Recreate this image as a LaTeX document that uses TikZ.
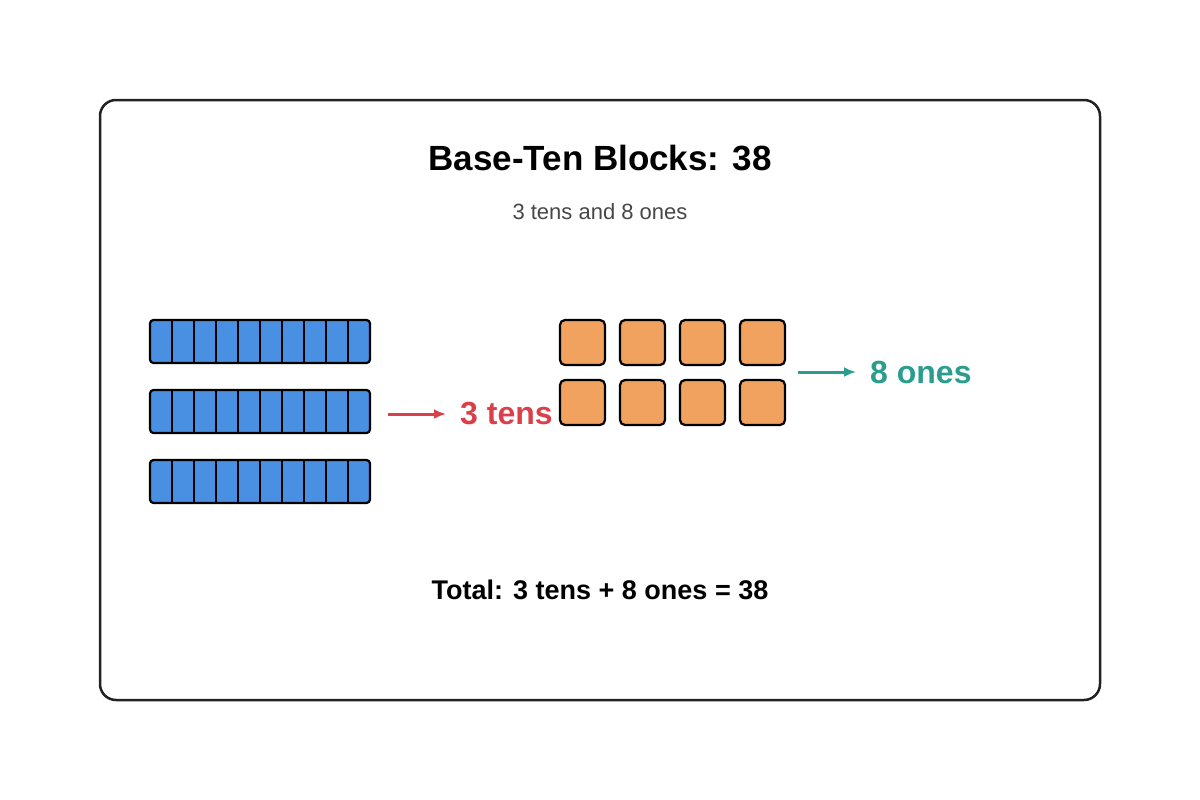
\documentclass[tikz,border=0pt]{standalone}
\usepackage{fontspec}
\setmainfont{Liberation Sans}
\usetikzlibrary{arrows.meta}
\definecolor{rodblue}{HTML}{4A90E2}
\definecolor{oneorange}{HTML}{F2A25F}
\definecolor{tenred}{HTML}{D9404A}
\definecolor{oneteal}{HTML}{2A9D8F}
\definecolor{frame}{HTML}{222222}
\tikzset{
  rod/.style={draw=black,fill=rodblue,line width=2.2pt,rounded corners=3.5pt,minimum width=220pt,minimum height=43pt,inner sep=0pt},
  unit/.style={draw=black,fill=oneorange,line width=2.2pt,rounded corners=5pt,minimum width=45pt,minimum height=45pt,inner sep=0pt},
  lbl/.style={font=\bfseries\fontsize{32}{36}\selectfont,anchor=west,inner sep=0pt},
}
\begin{document}
\begin{tikzpicture}[x=1pt,y=-1pt]
\useasboundingbox (0,0) rectangle (1200,800);
\draw[frame,line width=2.5pt,rounded corners=16pt] (100,100) rectangle (1100,700);
\node (title) at (600,158) {\bfseries\fontsize{35}{40}\selectfont Base-Ten Blocks: 38};
\node[text=black!72] (sub) at (600,212) {\fontsize{22}{26}\selectfont 3 tens and 8 ones};
\foreach \y/\n in {341.5/r1,411.5/r2,481.5/r3}{
  \node[rod] (\n) at (260,\y) {};
  \foreach \k in {1,...,9}{\draw[black,line width=1.3pt] (150+22*\k,\y-21.5) -- (150+22*\k,\y+21.5);}
}
\foreach \i in {0,1,2,3}{
  \node[unit] (a\i) at (582.5+60*\i,342.5) {};
  \node[unit] (b\i) at (582.5+60*\i,402.5) {};
}
\node[lbl,text=tenred] (tens) at (460,414) {3 tens};
\node[lbl,text=oneteal] (ones) at (870,372) {8 ones};
\coordinate (ts) at (388,414);
\coordinate (os) at (798,372);
\draw[tenred,line width=3pt,-{Latex[length=12pt,width=10pt]}] (ts) -- ([xshift=-14pt]tens.west);
\draw[oneteal,line width=3pt,-{Latex[length=12pt,width=10pt]}] (os) -- ([xshift=-14pt]ones.west);
\node (total) at (600,590) {\bfseries\fontsize{27}{32}\selectfont Total: 3 tens + 8 ones = 38};
\end{tikzpicture}
\end{document}
